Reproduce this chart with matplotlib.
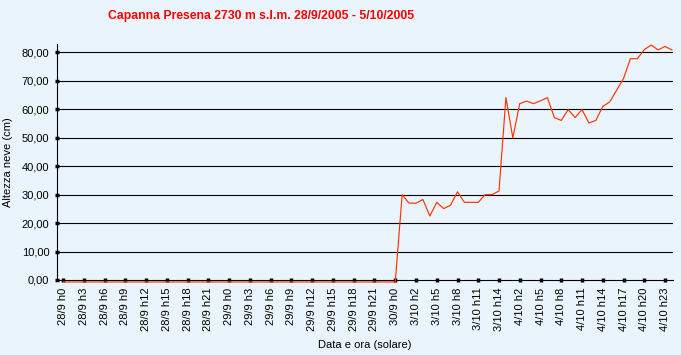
import matplotlib
matplotlib.use('Agg')
import matplotlib.pyplot as plt
from matplotlib.ticker import FuncFormatter

plt.rcParams['font.family'] = ['Liberation Sans', 'DejaVu Sans']

title = 'Capanna Presena 2730 m s.l.m. 28/9/2005 - 5/10/2005'

# x tick labels, one every 3 readings
tick_labels = ['28/9 h0', '28/9 h3', '28/9 h6', '28/9 h9', '28/9 h12', '28/9 h15',
               '28/9 h18', '28/9 h21', '29/9 h0', '29/9 h3', '29/9 h6', '29/9 h9',
               '29/9 h12', '29/9 h15', '29/9 h18', '29/9 h21', '30/9 h0',
               '3/10 h2', '3/10 h5', '3/10 h8', '3/10 h11', '3/10 h14',
               '4/10 h2', '4/10 h5', '4/10 h8', '4/10 h11', '4/10 h14',
               '4/10 h17', '4/10 h20', '4/10 h23']

# hourly snow depth (cm)
snow = [-0.7, -0.7, -0.7, -0.7, -0.7, -0.7, -0.7, -0.7, -0.7, -0.7,
        -0.7, -0.7, -0.7, -0.7, -0.7, -0.7, -0.7, -0.7, -0.7, -0.7,
        -0.7, -0.7, -0.7, -0.7, -0.7, -0.7, -0.7, -0.7, -0.7, -0.7,
        -0.7, -0.7, -0.7, -0.7, -0.7, -0.7, -0.7, -0.7, -0.7, -0.7,
        -0.7, -0.7, -0.7, -0.7, -0.7, -0.7, -0.7, -0.7, -0.7,
        30, 27, 27, 28.3, 22.5, 27.3, 25.1, 26.3, 31, 27.3,
        27.3, 27.3, 30, 30, 31.3, 64.1, 50, 62, 62.9, 62,
        63, 64.1, 57.1, 56.1, 59.9, 57.1, 59.9, 55.2, 56.1, 61,
        62.6, 66.7, 70.8, 77.8, 77.8, 81, 82.6, 80.9, 82.1, 80.9]

bg = '#eaf4fc'
fig = plt.figure(figsize=(6.81, 3.55), dpi=100, facecolor=bg)
ax = fig.add_axes([0.0837, 0.2113, 0.904, 0.665], facecolor=bg)

x = range(len(snow))
ax.plot(x, snow, color='#ff3300', lw=0.85, clip_on=False, zorder=3)

ax.set_ylim(0, 83)
ax.set_xlim(-0.9, 88.1)
ax.set_yticks(range(0, 81, 10))
ax.yaxis.set_major_formatter(FuncFormatter(lambda v, p: ('%.2f' % v).replace('.', ',')))
ax.set_xticks(range(0, 3 * len(tick_labels), 3))
ax.set_xticklabels(tick_labels, rotation=90)
for yv in range(10, 81, 10):
    ax.axhline(yv, color='black', lw=0.8, zorder=1)

for s in ['top', 'right']:
    ax.spines[s].set_visible(False)
for s in ['left', 'bottom']:
    ax.spines[s].set_linewidth(0.8)
ax.tick_params(direction='inout', length=3, width=2.5, labelsize=8, pad=4)

ax.set_ylabel('Altezza neve (cm)', fontsize=8, labelpad=6)
ax.set_xlabel('Data e ora (solare)', fontsize=8, labelpad=6)
fig.text(261 / 681, 1 - 16 / 355, title, color='red', fontsize=8.8,
         fontweight='bold', ha='center', va='center')

fig.savefig('out.png', dpi=100, facecolor=bg)
